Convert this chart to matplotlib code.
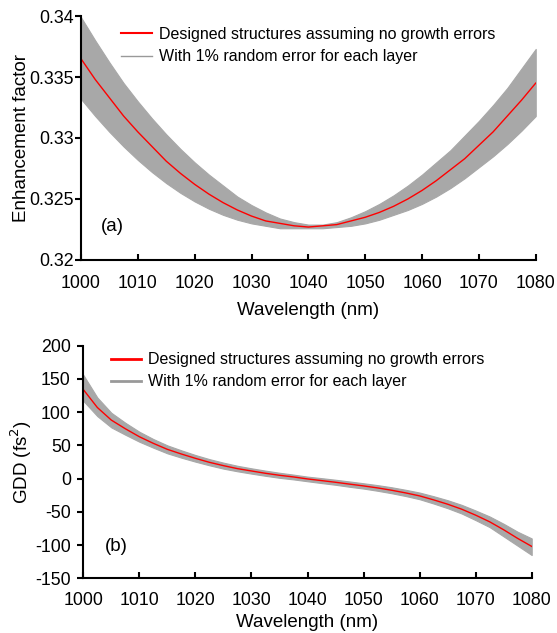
import matplotlib
matplotlib.use("Agg")
import matplotlib.pyplot as plt
from matplotlib.lines import Line2D

plt.rcParams['font.family'] = ['Liberation Sans', 'DejaVu Sans']
plt.rcParams['axes.unicode_minus'] = False

# ---- data ----
wavelength = [1000, 1002.5, 1005, 1007.5, 1010, 1012.5, 1015, 1017.5, 1020,
              1022.5, 1025, 1027.5, 1030, 1032.5, 1035, 1037.5, 1040,
              1042.5, 1045, 1047.5, 1050, 1052.5, 1055, 1057.5, 1060,
              1062.5, 1065, 1067.5, 1070, 1072.5, 1075, 1077.5, 1080]

# (a) enhancement factor
ef_design = [0.3365, 0.3348, 0.3333, 0.3318, 0.3305, 0.3293, 0.3281, 0.3271, 0.3262,
             0.3254, 0.3247, 0.3241, 0.3236, 0.3232, 0.3230, 0.3228, 0.3227,
             0.3228, 0.3229, 0.3232, 0.3235, 0.3239, 0.3244, 0.3250, 0.3257,
             0.3265, 0.3274, 0.3283, 0.3294, 0.3305, 0.3318, 0.3331, 0.3345]
ef_upper = [0.3399, 0.3380, 0.3362, 0.3345, 0.3330, 0.3316, 0.3303, 0.3291, 0.3280,
            0.3270, 0.3261, 0.3252, 0.3245, 0.3239, 0.3234, 0.3231, 0.3229,
            0.3229, 0.3231, 0.3235, 0.3240, 0.3246, 0.3253, 0.3261, 0.3270,
            0.3280, 0.3290, 0.3302, 0.3314, 0.3327, 0.3341, 0.3357, 0.3373]
ef_lower = [0.3332, 0.3318, 0.3305, 0.3293, 0.3282, 0.3272, 0.3263, 0.3255, 0.3248,
            0.3242, 0.3237, 0.3233, 0.3230, 0.3228, 0.3226, 0.3226, 0.3226,
            0.3226, 0.3227, 0.3228, 0.3230, 0.3233, 0.3237, 0.3241, 0.3246,
            0.3252, 0.3259, 0.3267, 0.3276, 0.3285, 0.3295, 0.3306, 0.3318]

# (b) GDD (fs^2)
gdd_design = [134, 107, 88, 75, 63, 53, 44, 37, 30.5,
              24.5, 19.5, 15, 11.5, 8, 5, 2.5, -0.5,
              -3, -5.5, -8.3, -11, -14, -17.5, -21.5, -26,
              -32, -38.5, -46, -55, -65, -77, -90, -102]
gdd_upper = [156, 122, 99, 84, 70.5, 59.5, 50, 42.5, 35.5,
             29.3, 24, 19.3, 15.5, 12, 8.8, 6, 3,
             0.7, -1.7, -4.3, -7, -9.8, -13, -16.8, -21,
             -26.5, -32.5, -39.5, -48, -57, -68, -80, -90]
gdd_lower = [117, 94, 77, 66, 55.5, 46.5, 38, 31.5, 25.5,
             20, 15, 11, 7.5, 4.2, 1.2, -1.2, -4,
             -6.7, -9.3, -12.3, -15, -18.3, -22, -26.2, -31,
             -37.5, -44.5, -52.5, -62.5, -73, -87, -101, -115]

xticks = [1000, 1010, 1020, 1030, 1040, 1050, 1060, 1070, 1080]
ef_ticks = [0.32, 0.325, 0.33, 0.335, 0.34]
ef_ticklabels = ["0.32", "0.325", "0.33", "0.335", "0.34"]
gdd_ticks = [-150, -100, -50, 0, 50, 100, 150, 200]

legend_labels = ["Designed structures assuming no growth errors",
                 "With 1% random error for each layer"]

RED = "#ff0000"
GRAY = "#a8a8a8"
TFS = 12.8
FS = 13.5
LFS = 11.5

fig = plt.figure(figsize=(5.57, 6.33), dpi=100)
ax1 = fig.add_axes([0.1454, 0.5893, 0.8164, 0.3854])
ax2 = fig.add_axes([0.1496, 0.0864, 0.8050, 0.3675])


def style(ax, xpad, ypad):
    for s in ("top", "right"):
        ax.spines[s].set_visible(False)
    for s in ("left", "bottom"):
        ax.spines[s].set_linewidth(1.5)
    ax.tick_params(axis="x", direction="in", length=4, width=1.5, labelsize=TFS, pad=xpad)
    ax.tick_params(axis="y", direction="out", length=4, width=1.5, labelsize=TFS, pad=ypad)
    ax.set_xlim(1000, 1080)
    ax.set_xticks(xticks)


# ---- (a) ----
ax1.fill_between(wavelength, ef_lower, ef_upper, color=GRAY, lw=0.8, edgecolor=GRAY)
ax1.plot(wavelength, ef_design, color=RED, lw=1.0)
ax1.set_ylim(0.32, 0.34)
ax1.set_yticks(ef_ticks)
ax1.set_yticklabels(ef_ticklabels)
style(ax1, 11, 1)
ax1.set_ylabel("Enhancement factor", fontsize=FS)
ax1.yaxis.set_label_coords(-0.113, 0.5)
ax1.set_xlabel("Wavelength (nm)", fontsize=FS)
ax1.xaxis.set_label_coords(0.5, -0.172)
ax1.text(0.070, 0.1365, "(a)", transform=ax1.transAxes, fontsize=FS,
         ha="center", va="center")
h1 = [Line2D([], [], color=RED, lw=1.5), Line2D([], [], color="#999999", lw=1.0)]
ax1.legend(h1, legend_labels, loc="upper left", bbox_to_anchor=(0.089, 0.955),
           frameon=False, fontsize=LFS, handlelength=1.9, handletextpad=0.45,
           labelspacing=0.45, borderaxespad=0, borderpad=0)

# ---- (b) ----
ax2.fill_between(wavelength, gdd_lower, gdd_upper, color=GRAY, lw=0.8, edgecolor=GRAY)
ax2.plot(wavelength, gdd_design, color=RED, lw=1.0)
ax2.set_ylim(-150, 200)
ax2.set_yticks(gdd_ticks)
style(ax2, 9.5, 5)
ax2.set_ylabel("GDD (fs$^2$)", fontsize=FS)
ax2.yaxis.set_label_coords(-0.109, 0.5)
ax2.set_xlabel("Wavelength (nm)", fontsize=FS)
ax2.xaxis.set_label_coords(0.5, -0.153)
ax2.text(0.0745, 0.136, "(b)", transform=ax2.transAxes, fontsize=FS,
         ha="center", va="center")
h2 = [Line2D([], [], color=RED, lw=2.0), Line2D([], [], color="#999999", lw=2.0)]
ax2.legend(h2, legend_labels, loc="upper left", bbox_to_anchor=(0.061, 0.972),
           frameon=False, fontsize=LFS, handlelength=1.9, handletextpad=0.45,
           labelspacing=0.45, borderaxespad=0, borderpad=0)

fig.savefig("out.png", dpi=100)
